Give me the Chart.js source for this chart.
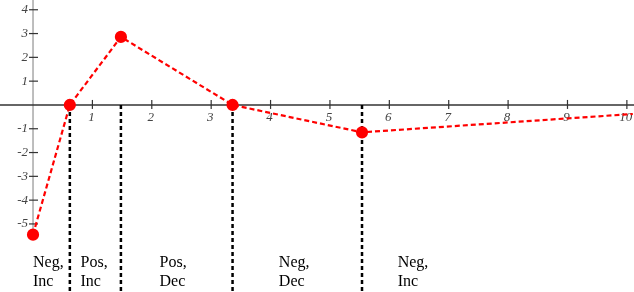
<!DOCTYPE html>
<html>
<head>
<meta charset="utf-8">
<script src="https://cdn.jsdelivr.net/npm/chart.js@4/dist/chart.umd.min.js"></script>
<style>
  html, body { margin: 0; padding: 0; background: #fff; }
  canvas { display: block; }
</style>
</head>
<body>
<canvas id="chart" width="634" height="292"></canvas>
<script>
// --- Data ---
const curveX = [0, 0.62, 1.48, 3.36, 5.54, 10.1];
const curveY = [-5.45, 0, 2.86, 0, -1.15, -0.38];
const markerShown = [true, true, true, true, true, false];
const boundaryX = [0.62, 1.48, 3.36, 5.54];
const regionLabels = [['Neg,', 'Inc'], ['Pos,', 'Inc'], ['Pos,', 'Dec'], ['Neg,', 'Dec'], ['Neg,', 'Inc']];
const regionLabelX = [0, 0.8, 2.13, 4.14, 6.14];
const xTicks = [1, 2, 3, 4, 5, 6, 7, 8, 9, 10];
const yTicks = [4, 3, 2, 1, -1, -2, -3, -4, -5];

const X_MIN = -0.556, X_MAX = 10.12;
const Y_MIN = -7.86, Y_MAX = 4.41;

// axes drawn through the (hidden) chart scales, crossing at the origin
const axesPlugin = {
    id: 'crossAxes',
    beforeDatasetsDraw(chart) {
        const ctx = chart.ctx;
        const xs = chart.scales.x, ys = chart.scales.y;
        const x0 = xs.getPixelForValue(0), y0 = ys.getPixelForValue(0);
        ctx.save();
        // y axis
        ctx.strokeStyle = '#a8a8a8';
        ctx.lineWidth = 1.5;
        ctx.beginPath();
        ctx.moveTo(x0, 0);
        ctx.lineTo(x0, ys.getPixelForValue(-5.5));
        ctx.stroke();
        // x axis
        ctx.strokeStyle = '#333';
        ctx.lineWidth = 1.5;
        ctx.beginPath();
        ctx.moveTo(0, y0);
        ctx.lineTo(chart.width, y0);
        ctx.stroke();

        ctx.font = 'italic 13px "Liberation Serif"';
        ctx.fillStyle = '#444';
        ctx.strokeStyle = '#333';
        ctx.lineWidth = 1.2;
        xTicks.forEach(v => {
            const px = xs.getPixelForValue(v);
            ctx.beginPath();
            ctx.moveTo(px, y0 - 5);
            ctx.lineTo(px, y0 + 4);
            ctx.stroke();
            ctx.textAlign = 'center';
            ctx.textBaseline = 'top';
            ctx.fillText(String(v), px - 1, y0 + 6);
        });
        yTicks.forEach(v => {
            const py = ys.getPixelForValue(v);
            ctx.beginPath();
            ctx.moveTo(x0 - 4, py);
            ctx.lineTo(x0 + 5, py);
            ctx.stroke();
            ctx.textAlign = 'right';
            ctx.textBaseline = 'middle';
            ctx.fillText(String(v), x0 - 5, py);
        });
        ctx.restore();
    },
    afterDraw(chart) {
        const ctx = chart.ctx;
        const xs = chart.scales.x;
        ctx.save();
        ctx.font = '16px "Liberation Serif"';
        ctx.fillStyle = '#000';
        ctx.textAlign = 'left';
        ctx.textBaseline = 'alphabetic';
        regionLabels.forEach((lines, i) => {
            const px = xs.getPixelForValue(regionLabelX[i]);
            lines.forEach((t, j) => ctx.fillText(t, px, 267 + j * 19));
        });
        ctx.restore();
    }
};

const boundarySets = boundaryX.map(b => ({
    data: [{ x: b, y: 0 }, { x: b, y: Y_MIN }],
    showLine: true,
    borderColor: '#000',
    borderWidth: 2.5,
    borderDash: [4, 3],
    pointRadius: 0,
    clip: false,
    order: 1
}));

new Chart(document.getElementById('chart'), {
    type: 'scatter',
    data: {
        datasets: [
            {
                data: curveX.map((x, i) => ({ x, y: curveY[i] })),
                showLine: true,
                borderColor: '#ff0000',
                borderWidth: 2.2,
                borderDash: [5, 3],
                pointRadius: markerShown.map(m => m ? 5 : 0),
                pointBackgroundColor: '#ff0000',
                pointBorderColor: '#ff0000',
                clip: false,
                order: 0
            },
            ...boundarySets
        ]
    },
    options: {
        responsive: false,
        animation: false,
        layout: { padding: 0, autoPadding: false },
        plugins: { legend: { display: false }, tooltip: { enabled: false } },
        scales: {
            x: { type: 'linear', min: X_MIN, max: X_MAX, display: false },
            y: { type: 'linear', min: Y_MIN, max: Y_MAX, display: false }
        }
    },
    plugins: [axesPlugin]
});
</script>
</body>
</html>
